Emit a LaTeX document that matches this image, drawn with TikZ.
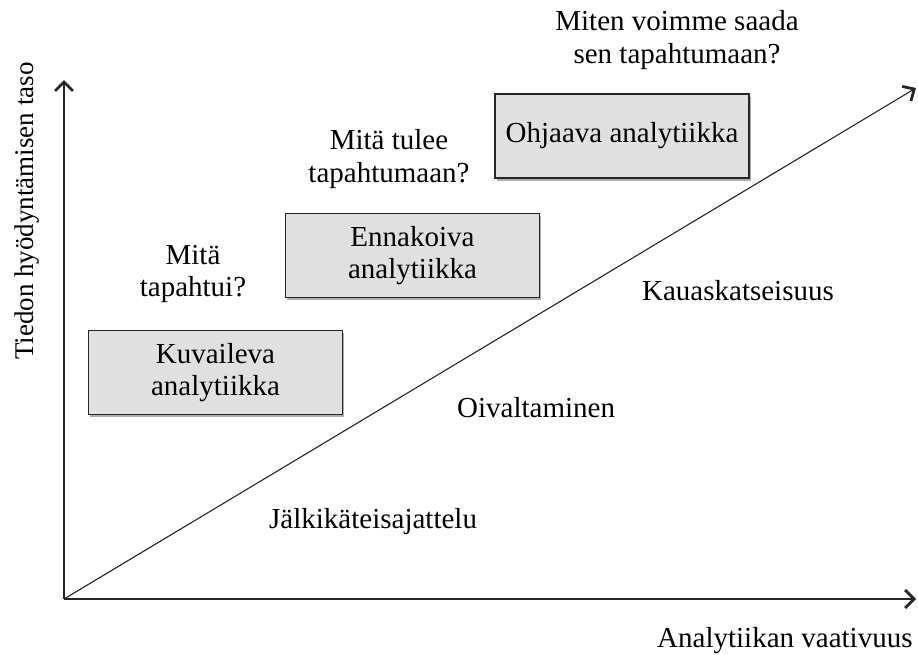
\documentclass[tikz,border=0pt]{standalone}
\usepackage{fontspec}
\setmainfont{Liberation Serif}
\usetikzlibrary{arrows.meta,shadows}

\tikzset{
  label text/.style={font=\fontsize{29}{32.5}\selectfont, inner sep=0pt, align=center},
  stage box/.style={label text, draw=black!85, line width=1.1pt, fill=black!12,
    minimum width=254pt, minimum height=84pt,
    drop shadow={shadow xshift=1.5pt, shadow yshift=-2.5pt, opacity=0.45, fill=black!70}},
  axis/.style={line width=1.4pt, draw=black!85,
    -{Straight Barb[length=9pt,width=18pt,line width=2.8pt]}},
  trend/.style={line width=1.1pt, draw=black!85,
    -{Straight Barb[length=9pt,width=17pt,line width=2.8pt]}}
}

\begin{document}
\begin{tikzpicture}[x=1pt,y=-1pt]
  \useasboundingbox[fill=white] (0,0) rectangle (918,654);

  % axes and trend line
  \coordinate (O) at (64,599);
  \coordinate (ytop) at (64,80);
  \coordinate (xend) at (916,599);
  \coordinate (dend) at (916,88);
  \draw[axis] (O) -- (ytop);
  \draw[axis] (O) -- (xend);
  \draw[trend] (O) -- (dend);

  % analytics stages
  \node[stage box] (kuv) at (215.5,372.5) {Kuvaileva\\analytiikka};
  \node[stage box] (enn) at (412.5,255.5) {Ennakoiva\\analytiikka};
  \node[stage box] (ohj) at (622,136) {Ohjaava analytiikka};

  % questions
  \node[label text] (q1) at (193,274) {Mitä\\tapahtui?};
  \node[label text] (q2) at (389,159) {Mitä tulee\\tapahtumaan?};
  \node[label text] (q3) at (677,40) {Miten voimme saada\\sen tapahtumaan?};

  % levels below the trend line
  \node[label text, anchor=base] (l3) at (738,300) {Kauaskatseisuus};
  \node[label text, anchor=base west] (l2) at (457,417) {Oivaltaminen};
  \node[label text, anchor=base west] (l1) at (269,528) {Jälkikäteisajattelu};

  % axis titles
  \node[label text, anchor=base west] (xlab) at (657,647) {Analytiikan vaativuus};
  \node[label text, font=\fontsize{27}{32}\selectfont, anchor=base west, rotate=90] (ylab) at (33,360) {Tiedon hyödyntämisen taso};
\end{tikzpicture}
\end{document}
